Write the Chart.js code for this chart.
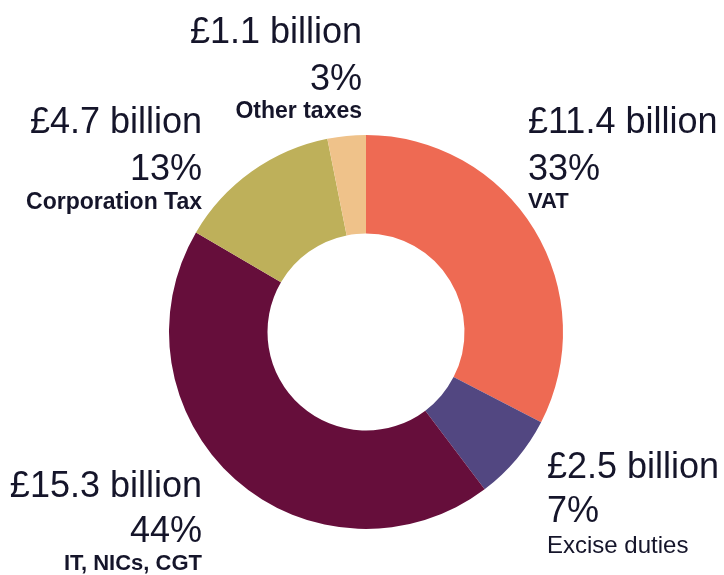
<!DOCTYPE html>
<html>
<head>
<meta charset="utf-8">
<script src="https://cdn.jsdelivr.net/npm/chart.js@4.4.1/dist/chart.umd.min.js"></script>
<style>
html,body{margin:0;padding:0;background:#fff;}
#wrap{width:724px;height:575px;position:relative;}
</style>
</head>
<body>
<div id="wrap"><canvas id="c" width="724" height="575"></canvas></div>
<script>
const categories = ["VAT", "Excise duties", "IT, NICs, CGT", "Corporation Tax", "Other taxes"];
const valuesBillion = [11.4, 2.5, 15.3, 4.7, 1.1];
const percentLabels = ["33%", "7%", "44%", "13%", "3%"];
const colors = ["#EE6A53", "#524781", "#660E3B", "#BEB05A", "#EFC28A"];

// label layout: anchor x, alignment, baselines for the 3 lines (layout only)
const labelLayout = [
  {x: 528, align: "left",  ys: [133, 180, 208], catFont: "bold 22px"},
  {x: 547, align: "left",  ys: [478, 522, 553], catFont: "24px"},
  {x: 202, align: "right", ys: [497, 542, 570], catFont: "bold 22px"},
  {x: 202, align: "right", ys: [133, 180, 209], catFont: "bold 23px"},
  {x: 362, align: "right", ys: [43, 90, 118],  catFont: "bold 23px"}
];

const FAMILY = '"Liberation Sans", Arial, sans-serif';

const labelPlugin = {
  id: 'outerLabels',
  afterDraw(chart) {
    const ctx = chart.ctx;
    ctx.save();
    ctx.fillStyle = '#15152a';
    ctx.textBaseline = 'alphabetic';
    categories.forEach((cat, i) => {
      const L = labelLayout[i];
      ctx.textAlign = L.align;
      const lines = [
        {t: '£' + valuesBillion[i].toFixed(1) + ' billion', f: '36px ' + FAMILY},
        {t: percentLabels[i], f: '36px ' + FAMILY},
        {t: cat, f: L.catFont + ' ' + FAMILY}
      ];
      lines.forEach((ln, j) => {
        ctx.font = ln.f;
        ctx.fillText(ln.t, L.x, L.ys[j]);
      });
    });
    ctx.restore();
  }
};

new Chart(document.getElementById('c'), {
  type: 'doughnut',
  data: {
    labels: categories,
    datasets: [{
      data: valuesBillion,
      backgroundColor: colors,
      borderWidth: 0,
      hoverOffset: 0
    }]
  },
  options: {
    responsive: false,
    animation: false,
    cutout: '50%',
    layout: {padding: {left: 169, right: 161, top: 135, bottom: 46}},
    plugins: {
      legend: {display: false},
      tooltip: {enabled: false}
    }
  },
  plugins: [labelPlugin]
});
</script>
</body>
</html>
